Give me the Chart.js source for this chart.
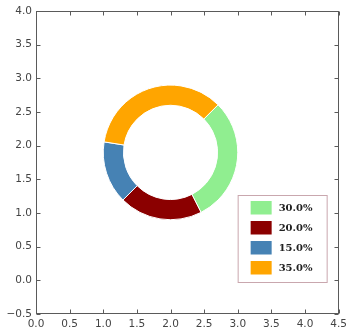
<!DOCTYPE html>
<html>
<head>
<meta charset="utf-8">
<script src="https://cdn.jsdelivr.net/npm/chart.js@4.4.1/dist/chart.umd.min.js"></script>
<style>
  html, body { margin: 0; padding: 0; background: #ffffff; }
  #wrap { width: 351px; height: 335px; }
</style>
</head>
<body>
<div id="wrap"><canvas id="c" width="351" height="335"></canvas></div>
<script>
// Ring segments
const sliceLabels = ['30.0%', '20.0%', '15.0%', '35.0%'];
const sliceValues = [30, 20, 15, 35];
const sliceColors = ['#90ee90', '#8b0000', '#4682b4', '#ffa500'];

// Ring geometry in data units
const ringCenter = [2.0, 1.9];
const ringRadius = 1.0;
const ringWidth = 0.3;
const ringStartDeg = 45; // counter-clockwise from +x, slices run clockwise

// Axis ticks
const xTickValues = [0.0, 0.5, 1.0, 1.5, 2.0, 2.5, 3.0, 3.5, 4.0, 4.5];
const yTickValues = [-0.5, 0.0, 0.5, 1.0, 1.5, 2.0, 2.5, 3.0, 3.5, 4.0];

const fmt = v => v.toFixed(1).replace('-', '\u2212');

const ringPlugin = {
  id: 'ringAndLegend',
  afterDatasetsDraw(chart) {
    const ctx = chart.ctx;
    const xs = chart.scales.x, ys = chart.scales.y;
    const cx = xs.getPixelForValue(ringCenter[0]);
    const cy = ys.getPixelForValue(ringCenter[1]);
    const rxo = xs.getPixelForValue(ringCenter[0] + ringRadius) - cx;
    const ryo = cy - ys.getPixelForValue(ringCenter[1] + ringRadius);
    const rin = ringRadius - ringWidth;
    const rxi = xs.getPixelForValue(ringCenter[0] + rin) - cx;
    const ryi = cy - ys.getPixelForValue(ringCenter[1] + rin);
    const total = sliceValues.reduce((a, b) => a + b, 0);
    let a = -ringStartDeg * Math.PI / 180;
    ctx.save();
    sliceValues.forEach((v, i) => {
      const a2 = a + v / total * Math.PI * 2;
      ctx.beginPath();
      ctx.ellipse(cx, cy, rxo, ryo, 0, a, a2, false);
      ctx.ellipse(cx, cy, rxi, ryi, 0, a2, a, true);
      ctx.closePath();
      ctx.fillStyle = sliceColors[i];
      ctx.fill();
      ctx.lineWidth = 1;
      ctx.strokeStyle = '#ffffff';
      ctx.stroke();
      a = a2;
    });

    // legend, lower right of the plot area
    const area = chart.chartArea;
    const bw = 89, bh = 87;
    const bx = area.right - 12 - bw;
    const by = area.bottom - 32 - bh;
    ctx.fillStyle = '#ffffff';
    ctx.fillRect(bx, by, bw, bh);
    ctx.strokeStyle = '#c9a7ae';
    ctx.lineWidth = 1;
    ctx.strokeRect(bx + 0.5, by + 0.5, bw, bh);
    ctx.font = 'bold 10px "DejaVu Serif"';
    ctx.textBaseline = 'middle';
    ctx.textAlign = 'left';
    sliceLabels.forEach((lab, i) => {
      const ry = by + 6 + i * 20;
      ctx.fillStyle = sliceColors[i];
      ctx.fillRect(bx + 13, ry, 21, 13.5);
      ctx.fillStyle = '#222222';
      ctx.fillText(lab, bx + 41, ry + 7.5);
    });

    // frame and inward ticks on all four sides
    ctx.strokeStyle = '#5a5a5a';
    ctx.lineWidth = 1;
    const L = Math.round(area.left) + 0.5, R = Math.round(area.right) - 0.5;
    const T = Math.round(area.top) + 0.5, B = Math.round(area.bottom) - 0.5;
    ctx.strokeRect(L, T, R - L, B - T);
    ctx.beginPath();
    xTickValues.forEach(v => {
      const px = Math.round(xs.getPixelForValue(v)) + 0.5;
      ctx.moveTo(px, B); ctx.lineTo(px, B - 4);
      ctx.moveTo(px, T); ctx.lineTo(px, T + 4);
    });
    yTickValues.forEach(v => {
      const py = Math.round(ys.getPixelForValue(v)) + 0.5;
      ctx.moveTo(L, py); ctx.lineTo(L + 4, py);
      ctx.moveTo(R, py); ctx.lineTo(R - 4, py);
    });
    ctx.stroke();
    ctx.restore();
  }
};

const tickFont = { family: '"DejaVu Sans"', size: 10.5 };

new Chart(document.getElementById('c'), {
  type: 'scatter',
  data: { datasets: [{ data: [] }] },
  options: {
    responsive: false,
    animation: false,
    devicePixelRatio: 1,
    layout: { padding: { top: 11, right: 8, left: 0, bottom: 0 } },
    plugins: { legend: { display: false }, tooltip: { enabled: false } },
    scales: {
      x: {
        type: 'linear', min: 0, max: 4.5,
        afterBuildTicks: s => { s.ticks = xTickValues.map(v => ({ value: v })); },
        afterFit: s => { s.height = 21; },
        grid: { display: true, drawOnChartArea: false, drawTicks: false },
        border: { display: false },
        ticks: { padding: 4, color: '#444444', font: tickFont, maxRotation: 0, autoSkip: false,
                 callback: v => fmt(v) }
      },
      y: {
        type: 'linear', min: -0.5, max: 4.0,
        afterBuildTicks: s => { s.ticks = yTickValues.map(v => ({ value: v })); },
        afterFit: s => { s.width = 36; },
        grid: { display: true, drawOnChartArea: false, drawTicks: false },
        border: { display: false },
        ticks: { padding: 4, color: '#444444', font: tickFont, autoSkip: false,
                 callback: v => fmt(v) }
      }
    }
  },
  plugins: [ringPlugin]
});
</script>
</body>
</html>
